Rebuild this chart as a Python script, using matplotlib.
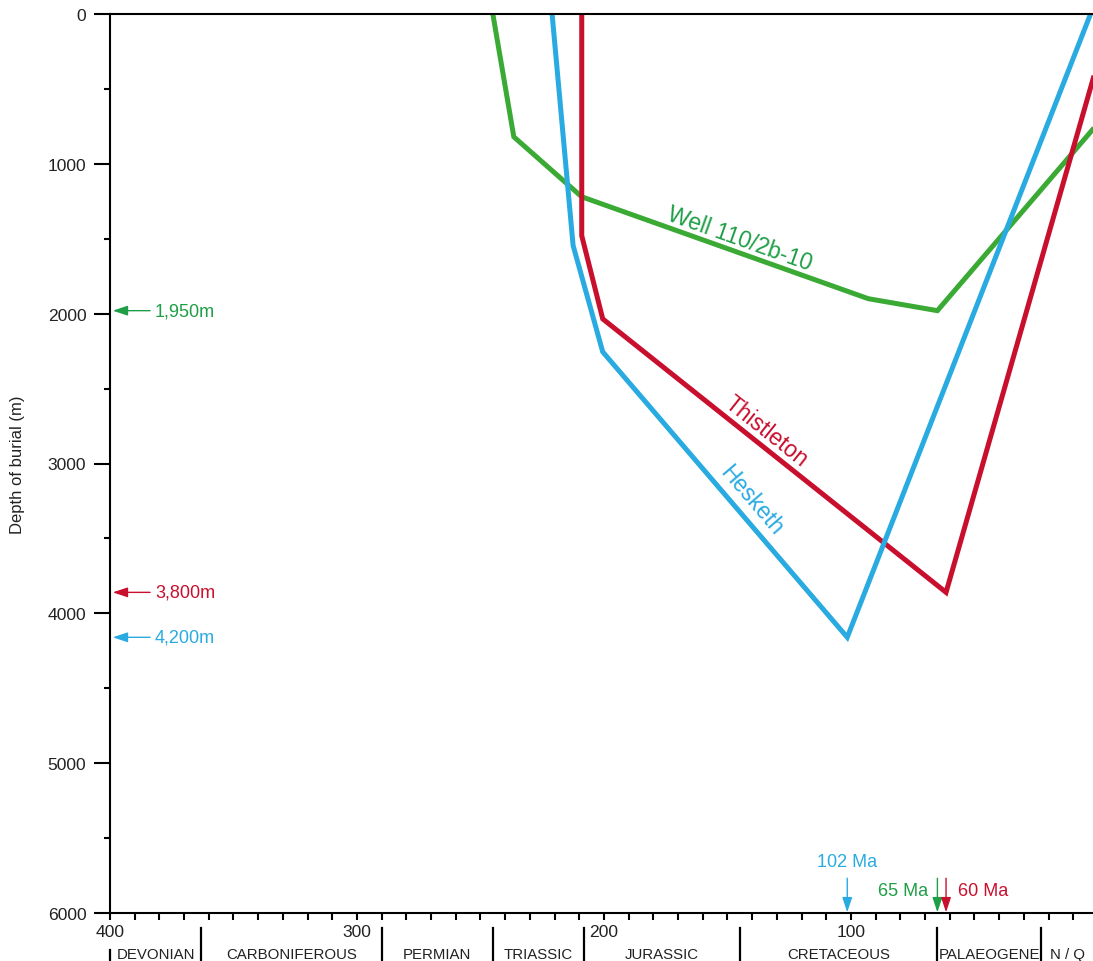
import numpy as np
import matplotlib.pyplot as plt
import matplotlib.transforms as mtransforms

plt.rcParams["font.family"] = ["Liberation Sans", "DejaVu Sans"]

# burial history curves, age in Ma, depth in m
well_age = [245, 236.5, 209, 93, 65, 0]
well_depth = [0, 820, 1220, 1900, 1980, 730]
thist_age = [209, 209, 200.5, 61.5, 0]
thist_depth = [0, 1480, 2035, 3860, 320]
hesk_age = [221, 212.5, 200.5, 101.5, 3]
hesk_depth = [0, 1545, 2255, 4160, 0]

curve_names = ["Well 110/2b-10", "Thistleton", "Hesketh"]
max_depth_labels = ["1,950m", "3,800m", "4,200m"]
max_age_labels = ["65 Ma", "60 Ma", "102 Ma"]

period_names = ["DEVONIAN", "CARBONIFEROUS", "PERMIAN", "TRIASSIC",
                "JURASSIC", "CRETACEOUS", "PALAEOGENE", "N / Q"]
period_bounds = [400, 363, 290, 245, 208, 145, 65, 23, 0]

age_ticks = [400, 300, 200, 100]
depth_ticks = [0, 1000, 2000, 3000, 4000, 5000, 6000]

line_colors = ["#3aaa35", "#c8102e", "#29abe2"]
text_colors = ["#1e9e46", "#c8102e", "#29abe2"]

fig = plt.figure(figsize=(10.93, 9.62), dpi=100)
ax = fig.add_axes([110 / 1093, 48 / 962, 983 / 1093, 899 / 962])
ax.set_xlim(400, 2)
ax.set_ylim(6000, 0)

ax.spines["right"].set_visible(False)
for s in ["left", "top", "bottom"]:
    ax.spines[s].set_linewidth(1.5)

ax.set_yticks(depth_ticks)
ax.set_yticks(np.arange(500, 6000, 1000), minor=True)
ax.set_xticks(age_ticks)
ax.set_xticks(np.arange(390, 0, -10), minor=True)
ax.tick_params(axis="y", which="major", length=11.5, width=1.5, pad=5.5, labelsize=12.6, colors="#222222")
ax.tick_params(axis="y", which="minor", length=4.5, width=1.5)
ax.tick_params(axis="x", which="both", length=5, width=1.5, pad=3, labelsize=12.6, colors="#222222")
ax.tick_params(axis="both", which="both", color="black")

curves = [(well_age, well_depth), (thist_age, thist_depth), (hesk_age, hesk_depth)]
for (a, d), c in zip(curves, line_colors):
    ax.plot(a, d, color=c, lw=3.6, solid_joinstyle="miter", solid_capstyle="butt")

# curve name labels along a segment
label_pos = [(145, 1500), (134.4, 2781), (140.5, 3241)]
label_seg = [2, 2, 2]
fig.canvas.draw()
for (a, d), name, tc, pos, k in zip(curves, curve_names, text_colors, label_pos, label_seg):
    p1 = ax.transData.transform((a[k], d[k]))
    p2 = ax.transData.transform((a[k + 1], d[k + 1]))
    ang = np.degrees(np.arctan2(p2[1] - p1[1], p2[0] - p1[0]))
    ax.text(pos[0], pos[1], name, color=tc, fontsize=16.5, rotation=ang,
            rotation_mode="anchor", ha="center", va="center")

head = "-|>,head_length=0.9,head_width=0.3"

# maximum burial depth markers on the depth axis
for (a, d), lab, tc in zip(curves, max_depth_labels, text_colors):
    ax.annotate(lab, xy=(400, max(d)), xytext=(32.4, 0), textcoords="offset points",
                ha="left", va="center", fontsize=13, color=tc, annotation_clip=False,
                arrowprops=dict(arrowstyle=head, color=tc, lw=1, shrinkA=1.5, shrinkB=2,
                                mutation_scale=10))

# age of maximum burial markers on the age axis
offsets = [(-7, 16.5, "right"), (8.5, 16.5, "left"), (0, 37.4, "center")]
for (a, d), lab, tc, off in zip(curves, max_age_labels, text_colors, offsets):
    age_max = a[int(np.argmax(d))]
    ax.annotate("", xy=(age_max, 6000), xytext=(0, 25), textcoords="offset points",
                annotation_clip=False,
                arrowprops=dict(arrowstyle=head, color=tc, lw=1, shrinkA=0, shrinkB=0.5,
                                mutation_scale=10))
    ax.annotate(lab, xy=(age_max, 6000), xytext=(off[0], off[1]), textcoords="offset points",
                ha=off[2], va="center", fontsize=13, color=tc, annotation_clip=False)

# geological period band below the axis
trans = mtransforms.blended_transform_factory(ax.transData, ax.transAxes)
lo, hi = ax.get_xlim()
for b in period_bounds[1:-1]:
    ax.plot([b, b], [-0.0167, -0.06], transform=trans, color="black", lw=1.6, clip_on=False)
ax.plot([400, 400], [-0.0412, -0.06], transform=trans, color="black", lw=1.6, clip_on=False)
for name, b0, b1 in zip(period_names, period_bounds[:-1], period_bounds[1:]):
    mid = (min(b0, lo) + max(b1, hi)) / 2
    ax.text(mid, -0.0455, name, transform=trans, ha="center", va="center",
            fontsize=10.8, color="#222222", clip_on=False)

fig.text(18 / 1093, (962 - 465) / 962, "Depth of burial (m)", rotation=90,
         ha="center", va="center", fontsize=12, color="#222222")

fig.savefig("out.png", dpi=100)
